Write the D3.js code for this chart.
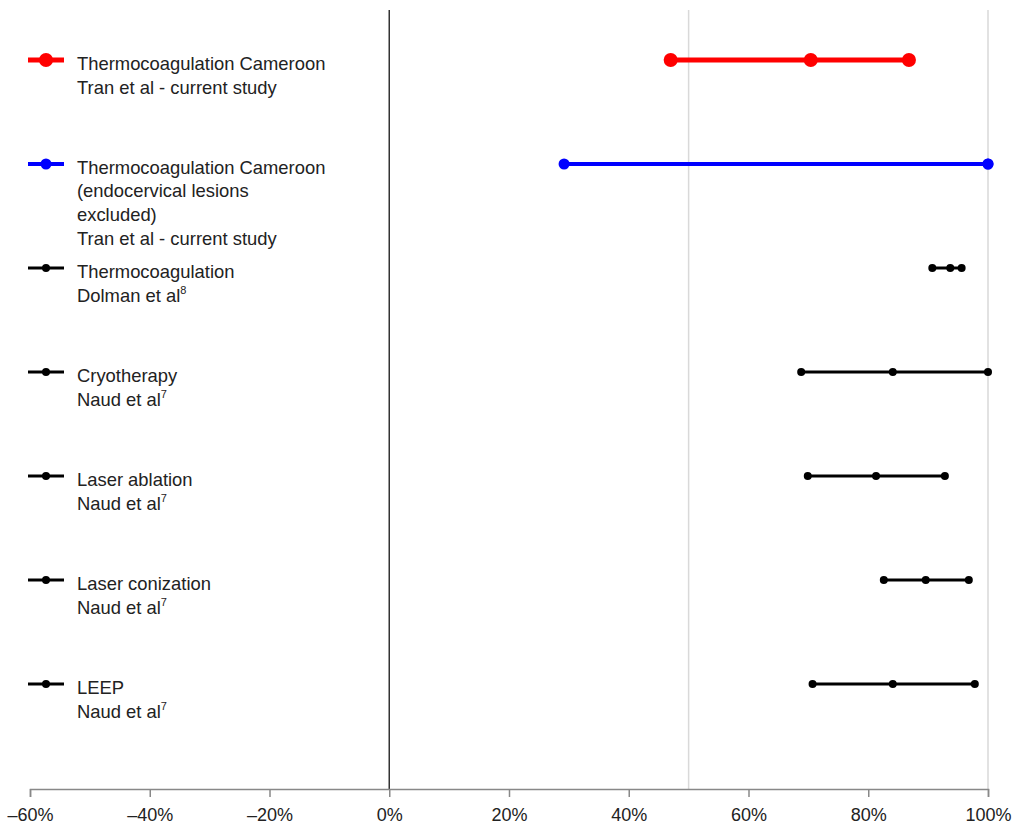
<!DOCTYPE html>
<html>
<head>
<meta charset="utf-8">
<script src="https://cdn.jsdelivr.net/npm/d3@7"></script>
<style>
  body { margin: 0; background: #fff; }
  text { font-family: "Liberation Sans", Arial, sans-serif; }
</style>
</head>
<body>
<div id="chart"></div>
<script>
// rows, top to bottom
const rowTitles = [
    ['Thermocoagulation Cameroon'],
    ['Thermocoagulation Cameroon', '(endocervical lesions', 'excluded)'],
    ['Thermocoagulation'],
    ['Cryotherapy'],
    ['Laser ablation'],
    ['Laser conization'],
    ['LEEP']
];
const rowSources = ['Tran et al - current study', 'Tran et al - current study', 'Dolman et al', 'Naud et al', 'Naud et al', 'Naud et al', 'Naud et al'];
const rowRefs = ['', '', '8', '7', '7', '7', '7'];
// lower, estimate, upper (%)
const lowerVals = [47.0, 29.2, 90.7, 68.8, 69.9, 82.6, 70.7];
const pointVals = [70.4, 100, 93.7, 84.1, 81.3, 89.6, 84.1];
const upperVals = [86.8, 100, 95.6, 100, 92.8, 96.8, 97.8];
const rowColors = ['#ff0000', '#0000ff', '#000', '#000', '#000', '#000', '#000'];
const xTicks = [-60, -40, -20, 0, 20, 40, 60, 80, 100];
const gridVals = [50, 100];

const width = 1014, height = 825;
const svg = d3.select('#chart').append('svg').attr('width', width).attr('height', height);

const x = d3.scaleLinear().domain([-60, 100]).range([30, 988]);
const y = d3.scalePoint().domain(d3.range(rowTitles.length)).range([60, 684]);
const axisY = 789;

// gridlines
svg.append('g').selectAll('line').data(gridVals).enter().append('line')
    .attr('x1', d => x(d)).attr('x2', d => x(d))
    .attr('y1', 10).attr('y2', axisY)
    .attr('stroke', '#d9d9d9').attr('stroke-width', 1.5);

// zero line
svg.append('line')
    .attr('x1', x(0)).attr('x2', x(0)).attr('y1', 10).attr('y2', axisY)
    .attr('stroke', '#333').attr('stroke-width', 1.5);

// axis
const axis = svg.append('g')
    .attr('transform', `translate(0,${axisY})`)
    .call(d3.axisBottom(x).tickValues(xTicks).tickSize(8).tickPadding(11)
        .tickFormat(d => (d < 0 ? '\u2013' + Math.abs(d) : d) + '%'));
axis.select('.domain').attr('stroke', '#888').attr('stroke-width', 1.5);
axis.selectAll('.tick line').attr('stroke', '#888').attr('stroke-width', 1.5);
axis.selectAll('.tick text').attr('font-size', 18).attr('fill', '#222')
    .attr('font-family', '"Liberation Sans", Arial, sans-serif');

const sizes = i => i === 0 ? { r: 7, w: 5 } : i === 1 ? { r: 5.5, w: 4 } : { r: 4, w: 3 };

const rows = svg.append('g').selectAll('g').data(d3.range(rowTitles.length)).enter().append('g');

// interval lines
rows.append('line')
    .attr('x1', i => x(lowerVals[i])).attr('x2', i => x(upperVals[i]))
    .attr('y1', i => y(i)).attr('y2', i => y(i))
    .attr('stroke', i => rowColors[i]).attr('stroke-width', i => sizes(i).w);

rows.each(function (i) {
    const g = d3.select(this);
    [lowerVals[i], pointVals[i], upperVals[i]].forEach(v => {
        g.append('circle').attr('cx', x(v)).attr('cy', y(i)).attr('r', sizes(i).r).attr('fill', rowColors[i]);
    });

    // legend marker
    g.append('line').attr('x1', 28).attr('x2', 64).attr('y1', y(i)).attr('y2', y(i))
        .attr('stroke', rowColors[i]).attr('stroke-width', sizes(i).w);
    g.append('circle').attr('cx', 46).attr('cy', y(i)).attr('r', sizes(i).r).attr('fill', rowColors[i]);

    // legend text
    const lines = rowTitles[i];
    lines.forEach((t, k) => {
        g.append('text').attr('x', 77).attr('y', y(i) + 9.5 + k * 23.5)
            .attr('font-size', 18.4).attr('fill', '#222').text(t);
    });
    const src = g.append('text').attr('x', 77).attr('y', y(i) + 9.5 + lines.length * 23.5 + 0.5)
        .attr('font-size', 18.4).attr('fill', '#222').text(rowSources[i]);
    if (rowRefs[i]) {
        src.append('tspan').attr('font-size', 11).attr('dy', -8).text(rowRefs[i]);
    }
});
</script>
</body>
</html>
